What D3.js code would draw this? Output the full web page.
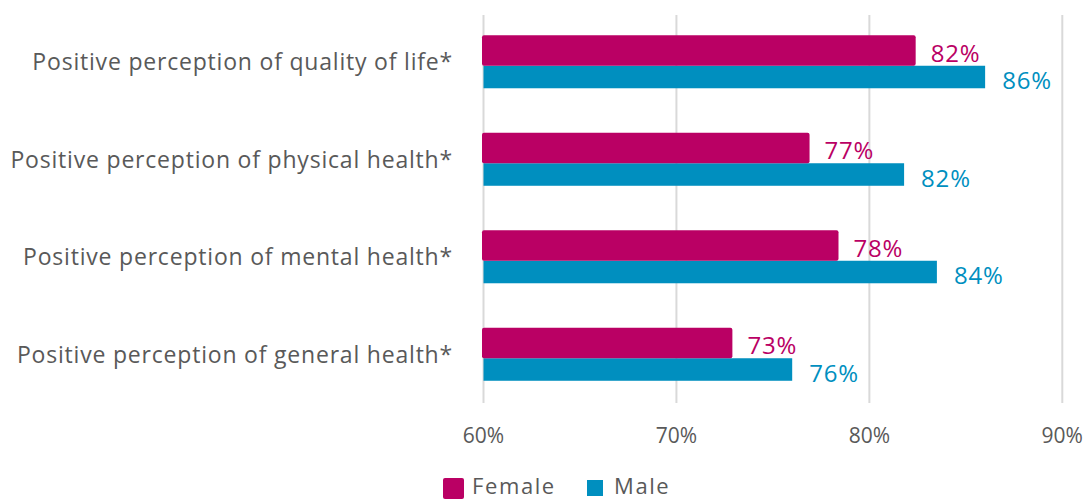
<!DOCTYPE html>
<html>
<head>
<meta charset="utf-8">
<script src="https://cdn.jsdelivr.net/npm/d3@7"></script>
<style>
  html, body { margin: 0; padding: 0; background: #fff; }
  svg { display: block; font-family: "Open Sans", sans-serif; }
</style>
</head>
<body>
<svg id="chart" width="1087" height="501"></svg>
<script>
// chart data
const categories = [
  "Positive perception of quality of life*",
  "Positive perception of physical health*",
  "Positive perception of mental health*",
  "Positive perception of general health*"
];
const seriesNames = ["Female", "Male"];
const femaleValues = [0.824, 0.769, 0.784, 0.729];
const maleValues = [0.860, 0.818, 0.835, 0.760];
const tickValues = [0.6, 0.7, 0.8, 0.9];

const colors = { Female: "#BA0064", Male: "#008FBF" };
const textGray = "#595959";

const svg = d3.select("#chart");

const x = d3.scaleLinear().domain([0.6, 0.9]).range([483.5, 1062.3]);
const y0 = d3.scaleBand().domain(categories).range([13, 403])
  .paddingInner(0.456).paddingOuter(0.228);
const y1 = d3.scaleBand().domain(seriesNames).range([0, y0.bandwidth()]);

const rows = categories.map((c, i) => ({
  category: c,
  Female: femaleValues[i],
  Male: maleValues[i]
}));

// gridlines
svg.append("g")
  .selectAll("line")
  .data(tickValues)
  .join("line")
  .attr("x1", d => x(d)).attr("x2", d => x(d))
  .attr("y1", 15).attr("y2", 403)
  .attr("stroke", "#d9d9d9")
  .attr("stroke-width", 2);

// tick labels
svg.append("g")
  .selectAll("text")
  .data(tickValues)
  .join("text")
  .attr("x", d => x(d))
  .attr("y", 443)
  .attr("text-anchor", "middle")
  .attr("fill", textGray)
  .style("font-size", "21px")
  .text(d3.format(".0%"));

// category labels
svg.append("g")
  .selectAll("text")
  .data(categories)
  .join("text")
  .attr("x", 453)
  .attr("y", d => y0(d) + y0.bandwidth() / 2)
  .attr("dy", "0.38em")
  .attr("text-anchor", "end")
  .attr("fill", textGray)
  .style("font-size", "23px")
  .style("letter-spacing", "0.8px")
  .text(d => d);

const groups = svg.append("g")
  .selectAll("g")
  .data(rows)
  .join("g")
  .attr("transform", d => `translate(0,${y0(d.category)})`);

// male bars
groups.append("rect")
  .attr("x", x(0.6))
  .attr("y", y1("Male") + 4)
  .attr("width", d => x(d.Male) - x(0.6))
  .attr("height", y1.bandwidth() - 4)
  .attr("fill", colors.Male);

// female bars (drawn on top, slightly taller)
groups.append("rect")
  .attr("x", x(0.6) - 1.5)
  .attr("y", y1("Female"))
  .attr("width", d => x(d.Female) - x(0.6) + 1.5)
  .attr("height", y1.bandwidth() + 4)
  .attr("rx", 2)
  .attr("fill", colors.Female);

const fmt = d3.format(".0%");

groups.append("text")
  .attr("x", d => x(d.Female) + 15)
  .attr("y", y1("Female") + y1.bandwidth())
  .attr("fill", colors.Female)
  .style("font-size", "24px")
  .style("letter-spacing", "0.8px")
  .text(d => fmt(d.Female));

groups.append("text")
  .attr("x", d => x(d.Male) + 17)
  .attr("y", y1("Male") + y1.bandwidth() + 1)
  .attr("fill", colors.Male)
  .style("font-size", "24px")
  .style("letter-spacing", "0.8px")
  .text(d => fmt(d.Male));

// legend (kept just inside the bottom edge)
const legend = svg.append("g");
legend.append("rect")
  .attr("x", 443).attr("y", 478).attr("width", 21).attr("height", 21)
  .attr("rx", 2).attr("fill", colors.Female);
legend.append("text")
  .attr("x", 472).attr("y", 494)
  .attr("fill", textGray).style("font-size", "22px")
  .style("letter-spacing", "1.6px")
  .text(seriesNames[0]);
legend.append("rect")
  .attr("x", 587).attr("y", 480).attr("width", 16).attr("height", 16)
  .attr("fill", colors.Male);
legend.append("text")
  .attr("x", 614).attr("y", 494)
  .attr("fill", textGray).style("font-size", "22px")
  .style("letter-spacing", "1.6px")
  .text(seriesNames[1]);
</script>
</body>
</html>
